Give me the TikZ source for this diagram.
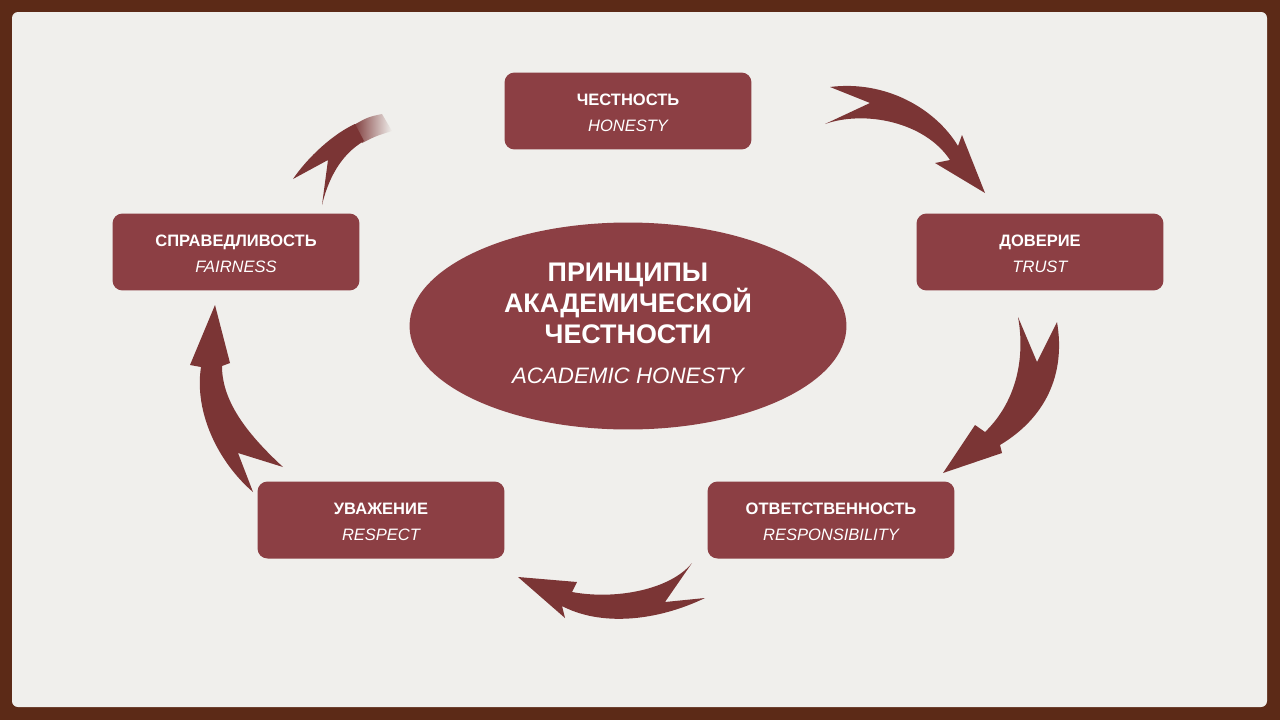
\documentclass[tikz,border=0pt]{standalone}
\usepackage{fontspec}
\setmainfont{Liberation Sans}
\usepackage{xcolor}
\usepackage{tikz}
\usetikzlibrary{shapes.geometric}
\definecolor{paperBg}{HTML}{F0EFEC}
\definecolor{frameBrown}{HTML}{5C2A17}
\definecolor{boxWine}{HTML}{8C3F44}
\definecolor{arrowWine}{HTML}{7B3535}

\begin{document}
\begin{tikzpicture}[x=0.02cm,y=-0.02cm,
  valuebox/.style={rectangle, rounded corners=0.2cm, fill=boxWine, text=white,
    minimum width=4.94cm, minimum height=1.54cm, inner sep=0pt, align=center,
    font=\fontsize{9.4}{14.7}\selectfont},
  core/.style={ellipse, fill=boxWine, text=white, minimum width=8.74cm,
    minimum height=4.14cm, inner sep=0pt, align=center,
    font=\fontsize{15.3}{17.6}\selectfont\bfseries},
  swoosh/.style={fill=arrowWine, draw=none}]
% frame and paper
\fill[frameBrown] (0,0) rectangle (1280,720);
\fill[paperBg, rounded corners=0.12cm] (12,12) rectangle (1267,707);
% the five values
\foreach \pos/\nm/\ru/\en in {(628,111)/honesty/ЧЕСТНОСТЬ/HONESTY,
    (1040,252)/trust/ДОВЕРИЕ/TRUST,
    (831,520)/resp/ОТВЕТСТВЕННОСТЬ/RESPONSIBILITY,
    (381,520)/respect/УВАЖЕНИЕ/RESPECT,
    (236,252)/fair/СПРАВЕДЛИВОСТЬ/FAIRNESS}{
  \node[valuebox] (\nm) at \pos {\rule{0pt}{9pt}\bfseries \ru\\\mdseries\itshape \en};
}
% centre
\node[core] (principles) at (628,326) {ПРИНЦИПЫ\\АКАДЕМИЧЕСКОЙ\\ЧЕСТНОСТИ\\[5pt]%
  \fontsize{12.7}{15}\selectfont\mdseries\itshape ACADEMIC HONESTY\rule[-3.4pt]{0pt}{0pt}};
% swooshes, clockwise
\fill[swoosh] (830,87) -- (870,103) -- (825,124) .. controls (865,110) and (925,122) .. (950,160)
  -- (935,163) -- (985,193) -- (962,135) -- (958,146) .. controls (935,108) and (885,80) .. cycle;
\fill[swoosh] (1018,317) -- (1037,362) -- (1057,322) .. controls (1066,375) and (1045,418) .. (1000,445)
  -- (1002,453) -- (943,473) -- (975,425) -- (985,432) .. controls (1018,400) and (1025,355) .. cycle;
\fill[swoosh] (692,563) -- (665,602) -- (705,598) .. controls (655,622) and (600,626) .. (562,606)
  -- (565,618) -- (518,577) -- (577,582) -- (572,592) .. controls (615,600) and (670,590) .. cycle;
\fill[swoosh] (253,492) -- (238,453) -- (283,467) .. controls (245,432) and (222,400) .. (222,366)
  -- (230,363) -- (215,305) -- (190,365) -- (201,367) .. controls (194,412) and (218,462) .. cycle;
% last one fades out
\shade[left color=arrowWine, right color=paperBg] (352,126) -- (362,143) .. controls (376,136) .. (392,131)
  -- (382,114) .. controls (368,117) .. cycle;
\fill[swoosh] (293,179) -- (328,160) -- (322,205) .. controls (328,180) and (340,155) .. (364,141)
  -- (355,124) .. controls (333,134) and (308,157) .. cycle;
\end{tikzpicture}
\end{document}
